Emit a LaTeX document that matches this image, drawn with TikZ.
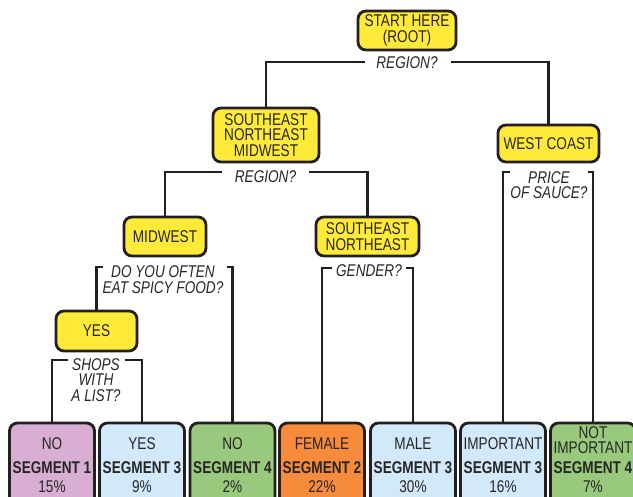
\documentclass[tikz,border=0pt]{standalone}
\usepackage{fontspec}
\setmainfont{Liberation Sans}[FakeStretch=0.8]
\definecolor{ink}{HTML}{231F20}
\definecolor{txt}{HTML}{262626}
\definecolor{yfill}{HTML}{FFEA3A}
\definecolor{pinkfill}{HTML}{D8AED2}
\definecolor{bluefill}{HTML}{D2E9FA}
\definecolor{greenfill}{HTML}{99C97C}
\definecolor{orangefill}{HTML}{F68B3C}
\begin{document}
\begin{tikzpicture}[x=1pt,y=-1pt,
  every node/.style={font=\fontsize{17}{15.7}\selectfont, text=txt, inner sep=0pt},
  ybox/.style={draw=ink, line width=2.8pt, fill=yfill, rounded corners=8pt, align=center},
  leaf/.style={draw=ink, line width=2.8pt, fill=#1, rounded corners=8pt, minimum width=85pt, minimum height=97pt},
  lt/.style={anchor=base, align=center},
  ltb/.style={anchor=base, font=\fontsize{17}{15.7}\selectfont\bfseries},
  qlabel/.style={align=center, font=\fontsize{17}{15.7}\selectfont\itshape},
  conn/.style={draw=ink, line width=2.8pt}
]
\useasboundingbox (0,0) rectangle (633,497);
\clip (0,0) rectangle (633,497);

% decision boxes
\node[ybox, minimum width=98pt, minimum height=39pt] (root) at (407,30.5) {START HERE\\(ROOT)};
\node[ybox, minimum width=106pt, minimum height=54pt] (n1) at (266,135) {SOUTHEAST\\NORTHEAST\\MIDWEST};
\node[ybox, minimum width=101pt, minimum height=37pt] (wc) at (548.5,143.5) {WEST COAST};
\node[ybox, minimum width=82pt, minimum height=39pt] (mw) at (165,236.5) {MIDWEST};
\node[ybox, minimum width=103pt, minimum height=39pt] (sn) at (367.5,236.5) {SOUTHEAST\\NORTHEAST};
\node[ybox, minimum width=81pt, minimum height=40pt] (yes) at (96.5,331) {YES};

% leaves
\node[leaf=pinkfill]   (l1) at (52,471.5) {};
\node[leaf=bluefill]   (l2) at (142,471.5) {};
\node[leaf=greenfill]  (l3) at (232.5,471.5) {};
\node[leaf=orangefill] (l4) at (322,471.5) {};
\node[leaf=bluefill]   (l5) at (413,471.5) {};
\node[leaf=bluefill]   (l6) at (503,471.5) {};
\node[leaf=greenfill]  (l7) at (593,471.5) {};

\node[lt]  (l1a) at (52,450) {NO};
\node[ltb] (l1b) at (52,474) {SEGMENT 1};
\node[lt]  (l1c) at (52,493) {15\%};
\node[lt]  (l2a) at (142,450) {YES};
\node[ltb] (l2b) at (142,474) {SEGMENT 3};
\node[lt]  (l2c) at (142,493) {9\%};
\node[lt]  (l3a) at (232.5,450) {NO};
\node[ltb] (l3b) at (232.5,474) {SEGMENT 4};
\node[lt]  (l3c) at (232.5,493) {2\%};
\node[lt]  (l4a) at (322,450) {FEMALE};
\node[ltb] (l4b) at (322,474) {SEGMENT 2};
\node[lt]  (l4c) at (322,493) {22\%};
\node[lt]  (l5a) at (413,450) {MALE};
\node[ltb] (l5b) at (413,474) {SEGMENT 3};
\node[lt]  (l5c) at (413,493) {30\%};
\node[lt]  (l6a) at (503,450) {IMPORTANT};
\node[ltb] (l6b) at (503,474) {SEGMENT 3};
\node[lt]  (l6c) at (503,493) {16\%};
\node[align=center] (l7a) at (593,440) {NOT\\IMPORTANT};
\node[ltb] (l7b) at (593,474) {SEGMENT 4};
\node[lt]  (l7c) at (593,493) {7\%};

% question labels
\node[qlabel] (q0) at (407,62.5) {REGION?};
\node[qlabel] (q1) at (265.5,176.5) {REGION?};
\node[qlabel] (q2) at (163,279.5) {DO YOU OFTEN\\EAT SPICY FOOD?};
\node[qlabel] (q3) at (96,380) {SHOPS\\WITH\\A LIST?};
\node[qlabel] (q4) at (369,270.5) {GENDER?};
\node[qlabel] (q5) at (549,185) {PRICE\\OF SAUCE?};

% line ends
\coordinate (a1) at (365,62);  \coordinate (a2) at (451,62);
\coordinate (b1) at (222,172); \coordinate (b2) at (309,172);
\coordinate (c1) at (103,267); \coordinate (c2) at (227,267);
\coordinate (d1) at (68,360);  \coordinate (d2) at (125,360);
\coordinate (e1) at (332,268); \coordinate (e2) at (406,268);
\coordinate (f1) at (510,172); \coordinate (f2) at (588,172);

% connectors
\draw[conn] (a1) -| (n1.north);
\draw[conn] (a2) -| (wc.north);
\draw[conn] (b1) -| (mw.north);
\draw[conn] (b2) -| (sn.north);
\draw[conn] (c1) -| (yes.north);
\draw[conn] (c2) -| (l3.north);
\draw[conn] (d1) -| (l1.north);
\draw[conn] (d2) -| (l2.north);
\draw[conn] (e1) -| (l4.north);
\draw[conn] (e2) -| (l5.north);
\draw[conn] (f1) -| (l6.north);
\draw[conn] (f2) -| (l7.north);
\end{tikzpicture}
\end{document}
